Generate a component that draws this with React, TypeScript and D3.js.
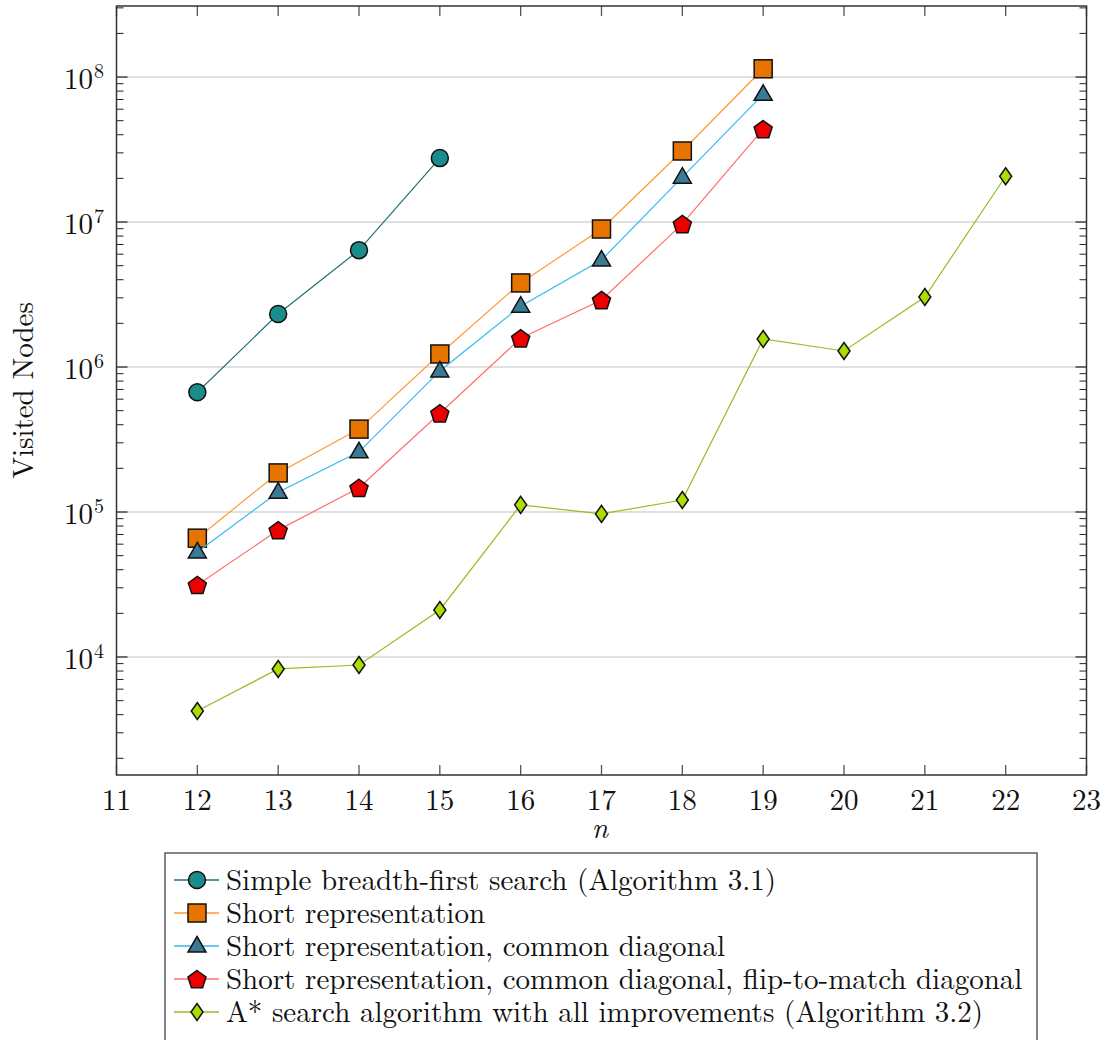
import React from "react";
import * as d3 from "d3";

const W = 1108;
const H = 1040;
const M = { left: 116.5, right: 1086.5, top: 6, bottom: 775 };

const nBfs = [12, 13, 14, 15];
const bfs = [6.7e5, 2.32e6, 6.4e6, 2.76e7];
const nShort = [12, 13, 14, 15, 16, 17, 18, 19];
const shortRep = [6.6e4, 1.86e5, 3.73e5, 1.23e6, 3.8e6, 8.95e6, 3.09e7, 1.14e8];
const diag = [5.3e4, 1.37e5, 2.6e5, 9.4e5, 2.63e6, 5.47e6, 2.04e7, 7.6e7];
const flip = [3.14e4, 7.5e4, 1.47e5, 4.8e5, 1.58e6, 2.9e6, 9.7e6, 4.38e7];
const nAstar = [12, 13, 14, 15, 16, 17, 18, 19, 20, 21, 22];
const astar = [4.24e3, 8.27e3, 8.8e3, 2.11e4, 1.12e5, 9.7e4, 1.21e5, 1.56e6, 1.29e6, 3.04e6, 2.07e7];

const xTicks = [11, 12, 13, 14, 15, 16, 17, 18, 19, 20, 21, 22, 23];
const yDecades = [4, 5, 6, 7, 8];

const labels = [
  "Simple breadth-first search (Algorithm 3.1)",
  "Short representation",
  "Short representation, common diagonal",
  "Short representation, common diagonal, flip-to-match diagonal",
  "A* search algorithm with all improvements (Algorithm 3.2)",
];

type Shape = "circle" | "square" | "triangle" | "pentagon" | "diamond";

const series = [
  { xs: nBfs, ys: bfs, line: "#1f7373", fill: "#1a8c8c", shape: "circle" as Shape },
  { xs: nShort, ys: shortRep, line: "#ff9933", fill: "#e87400", shape: "square" as Shape },
  { xs: nShort, ys: diag, line: "#33bbee", fill: "#3b7a96", shape: "triangle" as Shape },
  { xs: nShort, ys: flip, line: "#ff6e6e", fill: "#ee0000", shape: "pentagon" as Shape },
  { xs: nAstar, ys: astar, line: "#99bb22", fill: "#aadd00", shape: "diamond" as Shape },
];

const FONT = { fontFamily: '"Latin Modern Roman", "Liberation Serif", serif' };
const FS = 29;

function Marker({ shape, x, y, fill }: { shape: Shape; x: number; y: number; fill: string }) {
  const common = { fill, stroke: "#111", strokeWidth: 1.5 };
  if (shape === "circle") return <circle cx={x} cy={y} r={8.5} {...common} />;
  if (shape === "square") return <rect x={x - 9} y={y - 9} width={18} height={18} {...common} />;
  if (shape === "triangle") {
    const pts = [[x, y - 9.5], [x + 9, y + 6], [x - 9, y + 6]];
    return <polygon points={pts.map((p) => p.join(",")).join(" ")} {...common} />;
  }
  if (shape === "pentagon") {
    const pts = d3.range(5).map((i) => {
      const a = -Math.PI / 2 + (i * 2 * Math.PI) / 5;
      return [x + 9.5 * Math.cos(a), y + 1 + 9.5 * Math.sin(a)];
    });
    return <polygon points={pts.map((p) => p.join(",")).join(" ")} {...common} />;
  }
  const pts = [[x, y - 8.5], [x + 6, y], [x, y + 8.5], [x - 6, y]];
  return <polygon points={pts.map((p) => p.join(",")).join(" ")} {...common} />;
}

export default function App() {
  const x = d3.scaleLinear().domain([11, 23]).range([M.left, M.right]);
  const y = d3.scaleLog().domain([Math.pow(10, 3.186), Math.pow(10, 8.49)]).range([M.bottom, M.top]);

  const minor: number[] = [];
  for (let d = 3; d <= 8; d++) {
    for (let k = 2; k <= 9; k++) {
      const v = k * Math.pow(10, d);
      if (y(v) >= M.top && y(v) <= M.bottom) minor.push(v);
    }
  }

  const line = d3
    .line<[number, number]>()
    .x((d) => x(d[0]))
    .y((d) => y(d[1]));

  const legX = 165;
  const legY = 853;
  const rowH = 33;

  return (
    <svg width={W} height={H} style={{ position: "absolute", left: 0, top: 0 }}>
      <rect width={W} height={H} fill="#fff" />
      {/* grid */}
      {yDecades.map((d) => (
        <line key={d} x1={M.left} x2={M.right} y1={y(Math.pow(10, d))} y2={y(Math.pow(10, d))} stroke="#d6d6d6" strokeWidth={1.5} />
      ))}
      {/* x ticks */}
      {xTicks.map((t) => (
        <g key={t}>
          <line x1={x(t)} x2={x(t)} y1={M.bottom} y2={M.bottom - 10} stroke="#555" strokeWidth={1.3} />
          <line x1={x(t)} x2={x(t)} y1={M.top} y2={M.top + 10} stroke="#555" strokeWidth={1.3} />
          <text x={x(t)} y={810} textAnchor="middle" fontSize={FS} fill="#111" style={FONT}>
            {t}
          </text>
        </g>
      ))}
      {/* y ticks */}
      {minor.map((v) => (
        <g key={v}>
          <line x1={M.left} x2={M.left + 7} y1={y(v)} y2={y(v)} stroke="#222" strokeWidth={1} />
          <line x1={M.right} x2={M.right - 7} y1={y(v)} y2={y(v)} stroke="#222" strokeWidth={1} />
        </g>
      ))}
      {yDecades.map((d) => (
        <g key={d}>
          <line x1={M.left} x2={M.left + 11} y1={y(Math.pow(10, d))} y2={y(Math.pow(10, d))} stroke="#222" strokeWidth={1.2} />
          <line x1={M.right} x2={M.right - 11} y1={y(Math.pow(10, d))} y2={y(Math.pow(10, d))} stroke="#222" strokeWidth={1.2} />
          <text x={93} y={y(Math.pow(10, d)) + 12} textAnchor="end" fontSize={FS} fill="#111" style={FONT}>
            10
          </text>
          <text x={94} y={y(Math.pow(10, d)) + 1} fontSize={20} fill="#111" style={FONT}>
            {d}
          </text>
        </g>
      ))}
      {/* frame */}
      <rect x={M.left} y={M.top} width={M.right - M.left} height={M.bottom - M.top} fill="none" stroke="#333" strokeWidth={1.5} />
      {/* series */}
      {series.map((s, i) => {
        const pts = s.xs.map((n, j) => [n, s.ys[j]] as [number, number]);
        return (
          <g key={i}>
            <path d={line(pts) || ""} fill="none" stroke={s.line} strokeWidth={1.2} />
            {pts.map((p, j) => (
              <Marker key={j} shape={s.shape} x={x(p[0])} y={y(p[1])} fill={s.fill} />
            ))}
          </g>
        );
      })}
      {/* axis labels */}
      <text x={600} y={838} textAnchor="middle" fontSize={FS} fontStyle="italic" fill="#111" style={FONT}>
        n
      </text>
      <text transform={`translate(33,${(M.top + M.bottom) / 2}) rotate(-90)`} textAnchor="middle" fontSize={FS} fill="#111" style={FONT}>
        Visited Nodes
      </text>
      {/* legend */}
      <rect x={legX} y={legY} width={872} height={200} fill="#fff" stroke="#444" strokeWidth={1.3} />
      {series.map((s, i) => {
        const cy = legY + 27 + i * rowH;
        return (
          <g key={i}>
            <line x1={174} x2={219} y1={cy} y2={cy} stroke={s.line} strokeWidth={1.3} />
            <Marker shape={s.shape} x={197} y={cy} fill={s.fill} />
            <text x={226} y={cy + 10} fontSize={FS} fill="#111" style={FONT}>
              {labels[i]}
            </text>
          </g>
        );
      })}
    </svg>
  );
}
